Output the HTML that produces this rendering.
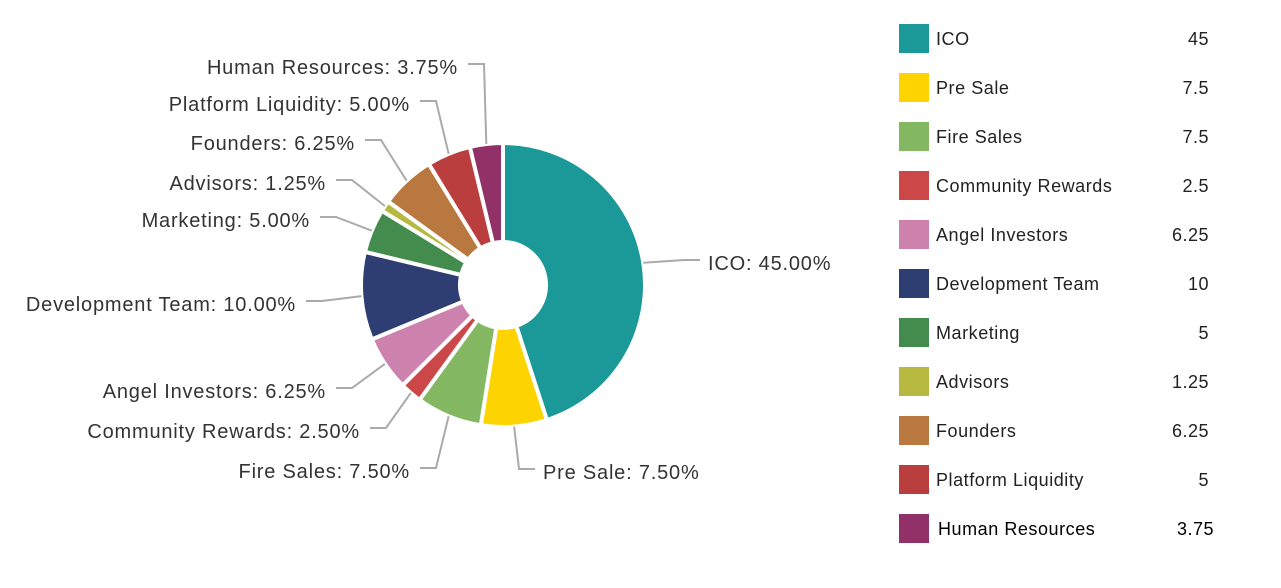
<!DOCTYPE html>
<html><head><meta charset="utf-8"><style>
body{margin:0;background:#fff;font-family:"Liberation Sans",Arial,sans-serif;}
#wrap{position:relative;width:1281px;height:588px;overflow:hidden;}
.lg{position:absolute;left:899px;width:330px;height:30px;}
.sw{position:absolute;left:0;top:0;width:30px;height:29px;}
.lt{position:absolute;left:37px;top:5px;font-size:18px;color:#222;white-space:nowrap;letter-spacing:0.55px;}
.lv{position:absolute;right:20px;top:5px;font-size:18px;color:#222;letter-spacing:0.5px;}
</style></head><body>
<div id="wrap">
<svg id="pie" width="880" height="588" style="position:absolute;left:0;top:0"></svg>
<div id="legend"></div>
</div>
<script>
const categories=["ICO","Pre Sale","Fire Sales","Community Rewards","Angel Investors","Development Team","Marketing","Advisors","Founders","Platform Liquidity","Human Resources"];
const values=[45,7.5,7.5,2.5,6.25,10,5,1.25,6.25,5,3.75];
const valueLabels=["45","7.5","7.5","2.5","6.25","10","5","1.25","6.25","5","3.75"];
const colors=["#1b9898","#fdd300","#84b762","#cc4748","#cd82ad","#2f3e72","#448c4d","#b7b83f","#b9783f","#b93e3d","#913167"];
// label layout: [side, textEdgeX, y]
const labelLayout=[["r",708,263],["r",543,472],["l",410,471],["l",360,431],["l",326,391],["l",296,304],["l",310,220],["l",326,183],["l",355,143],["l",410,104],["l",458,67]];
const NS="http://www.w3.org/2000/svg";
const svg=document.getElementById('pie');
const cx=503,cy=285,R=142,r=43;
const total=values.reduce((a,b)=>a+b,0);
function pt(a,rad){return [cx+rad*Math.sin(a),cy-rad*Math.cos(a)];}
let acc=0;
values.forEach((v,i)=>{
  const a0=acc/total*2*Math.PI, a1=(acc+v)/total*2*Math.PI; acc+=v;
  const large=(a1-a0)>Math.PI?1:0;
  const p0=pt(a0,R),p1=pt(a1,R),q1=pt(a1,r),q0=pt(a0,r);
  const path=document.createElementNS(NS,'path');
  path.setAttribute('d',`M${p0[0]},${p0[1]}A${R},${R} 0 ${large} 1 ${p1[0]},${p1[1]}L${q1[0]},${q1[1]}A${r},${r} 0 ${large} 0 ${q0[0]},${q0[1]}Z`);
  path.setAttribute('fill',colors[i]);path.setAttribute('stroke','#fff');path.setAttribute('stroke-width','4');
  path.setAttribute('stroke-linejoin','round');
  
  
  svg.appendChild(path);
  const am=(a0+a1)/2, s=pt(am,R);
  const L=labelLayout[i], side=L[0], tx=L[1], ty=L[2];
  const hx=side==="l"?tx+10:tx-8, ex=side==="l"?tx+26:tx-24;
  const line=document.createElementNS(NS,'polyline');
  line.setAttribute('points',`${s[0]},${s[1]} ${ex},${ty-3} ${hx},${ty-3}`);
  line.setAttribute('fill','none');line.setAttribute('stroke','#aaa');line.setAttribute('stroke-width','2');
  
  
  svg.appendChild(line);
  const t=document.createElementNS(NS,'text');
  t.setAttribute('x',tx);t.setAttribute('y',ty+7);
  t.setAttribute('text-anchor',side==="l"?'end':'start');
  t.setAttribute('font-size','20');t.setAttribute('fill','#333');
  t.setAttribute('letter-spacing','0.8');
  t.setAttribute('font-family','Liberation Sans, Arial, sans-serif');
  t.textContent=categories[i]+': '+(v/total*100).toFixed(2)+'%';
  
  
  svg.appendChild(t);
});
const lg=document.getElementById('legend');
categories.forEach((c,i)=>{
  const d=document.createElement('div');d.className='lg';d.style.top=(24+49*i)+'px';
  
  
  const last=i===categories.length-1;
  d.innerHTML=`<div class="sw" style="background:${colors[i]}"></div><div class="lt" style="${last?'left:39px;color:#000':''}">${c}</div><div class="lv" style="${last?'right:15px;color:#000':''}">${valueLabels[i]}</div>`;
  lg.appendChild(d);
});
</script>
</body></html>
